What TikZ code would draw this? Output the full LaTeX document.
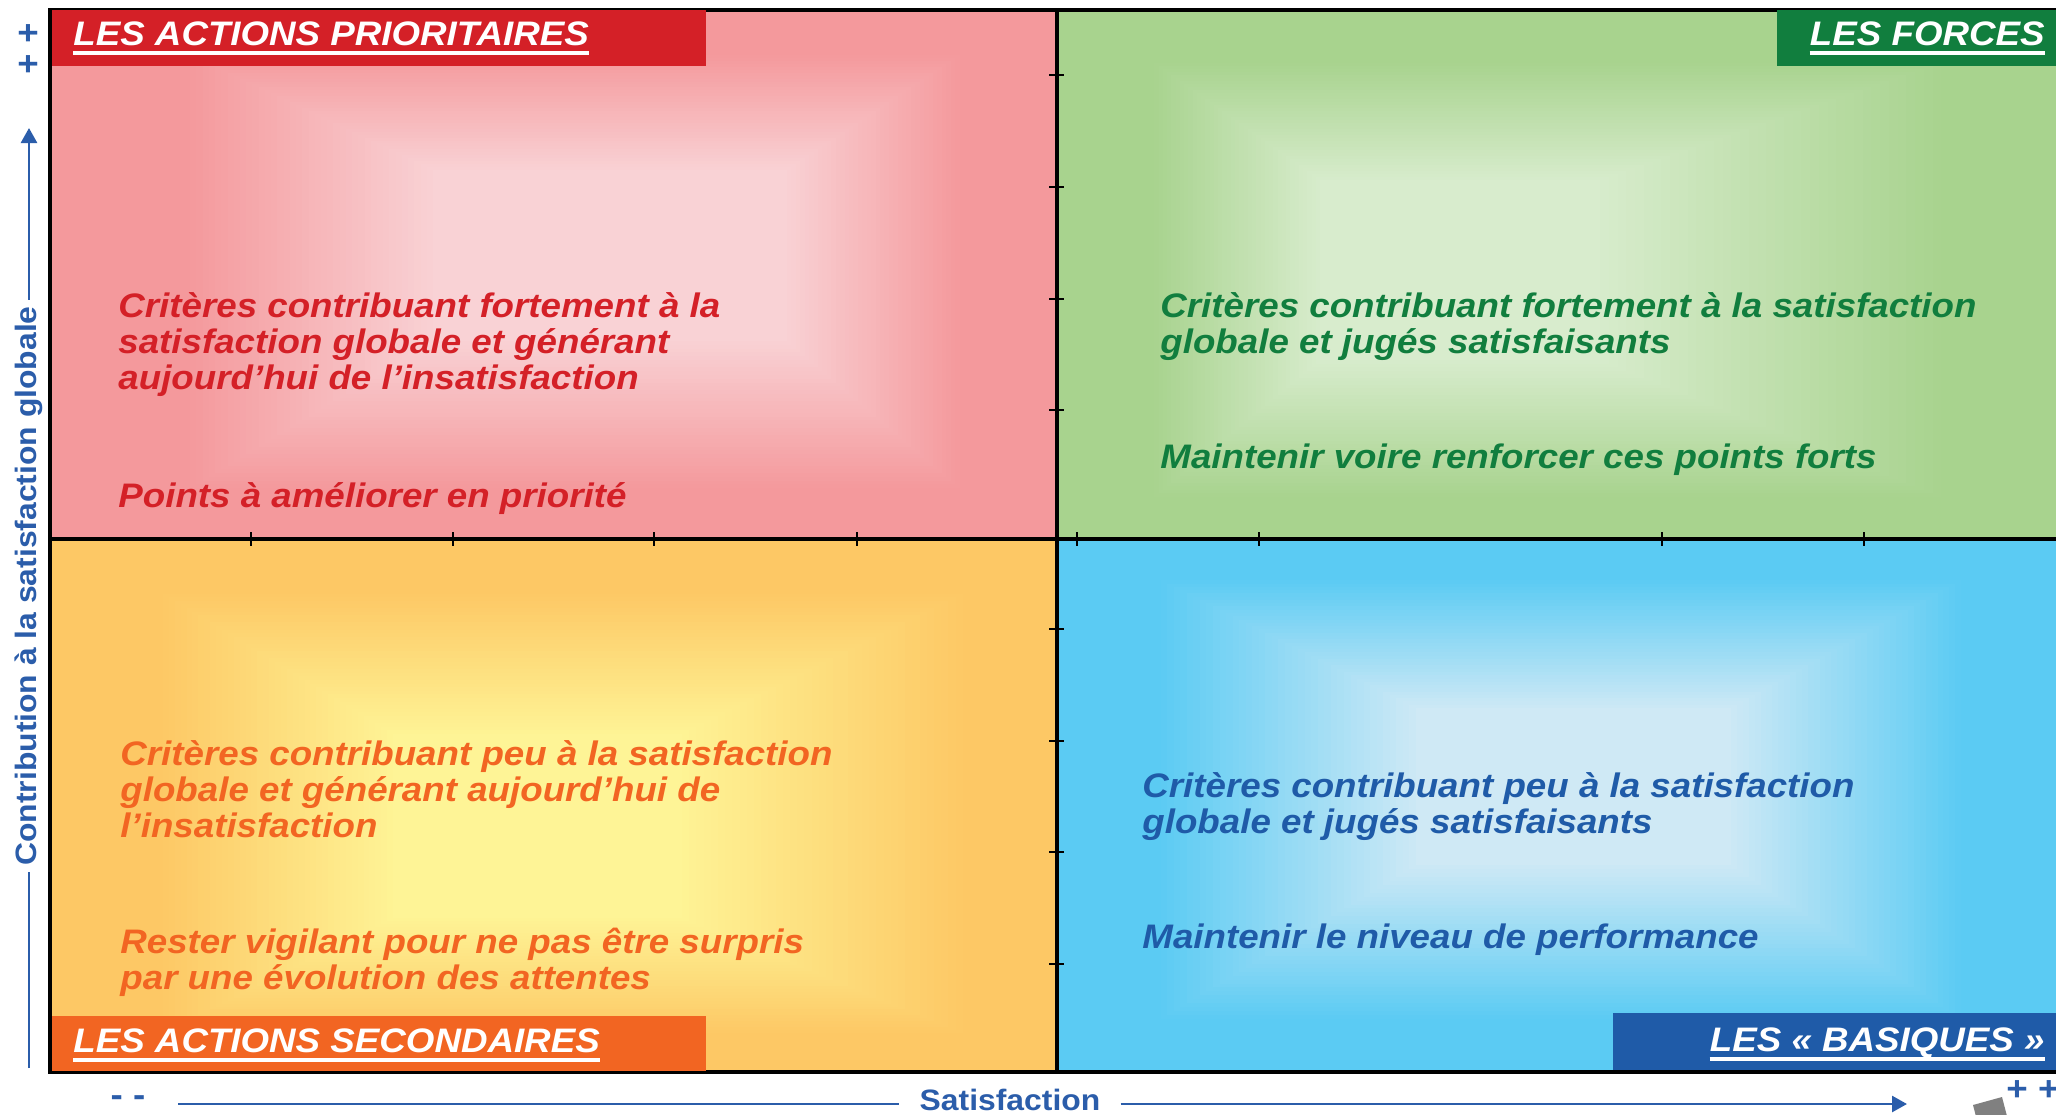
\documentclass[tikz,border=0pt]{standalone}
\usepackage{fontspec}
\setmainfont[FakeStretch=1.08]{Liberation Sans}
\usetikzlibrary{arrows.meta,calc}
\definecolor{prioRed}{HTML}{D42027}
\definecolor{forceGreen}{HTML}{117E3E}
\definecolor{secOrange}{HTML}{F26522}
\definecolor{basicBlue}{HTML}{1F5BA8}
\definecolor{axisBlue}{HTML}{2B5DAA}
\definecolor{redOut}{HTML}{F4999C}
\definecolor{redIn}{HTML}{F9D2D5}
\definecolor{greenOut}{HTML}{A8D38E}
\definecolor{greenIn}{HTML}{D8ECCD}
\definecolor{orangeOut}{HTML}{FDC865}
\definecolor{orangeIn}{HTML}{FEF496}
\definecolor{blueOut}{HTML}{5BCBF3}
\definecolor{blueIn}{HTML}{CFE9F5}

\begin{document}
\begin{tikzpicture}[x=0.5pt, y=-0.5pt,
  tagtext/.style={inner sep=0pt, anchor=base west, text=white, font=\fontsize{17}{18}\selectfont\bfseries\itshape},
  underl/.style={draw=white, line width=2pt},
  bodytext/.style={inner sep=0pt, anchor=base west, align=left, font=\fontsize{17}{18}\selectfont\bfseries\itshape},
  axislabel/.style={text=axisBlue, font=\fontsize{14.75}{16}\selectfont\bfseries},
  pmark/.style={inner sep=0pt, anchor=base, text=axisBlue, font=\fontsize{17}{18}\selectfont\bfseries},
  axisline/.style={draw=axisBlue, line width=1.3pt},
  tickmark/.style={line width=1pt},
]
\fill[white] (0,0) rectangle (2056,1114);
\useasboundingbox (0,0) rectangle (2056,1114);
\clip (0,0) rectangle (2056,1114);

% quadrants with a soft glow
\foreach \qa/\qb/\qc/\qd/\sa/\sb/\sc/\sd/\ea/\eb/\ec/\ed/\cin/\cout in {
  50/10/1057/539/184/52/964/492/433/170/787/341/redIn/redOut,
  1057/10/2056/539/1150/60/1950/500/1320/180/1600/360/greenIn/greenOut,
  50/539/1057/1072/157/590/970/1036/393/734/682/918/orangeIn/orangeOut,
  1057/539/2056/1072/1154/577/1967/1023/1416/708/1731/865/blueIn/blueOut} {
  \fill[\cout] (\qa,\qb) rectangle (\qc,\qd);
  \foreach \k in {1,...,40} {
    \pgfmathsetmacro\t{\k/40}
    \pgfmathtruncatemacro\m{100*\t}
    \fill[\cin!\m!\cout] ({\sa+(\ea-\sa)*\t},{\sb+(\eb-\sb)*\t}) rectangle ({\sc+(\ec-\sc)*\t},{\sd+(\ed-\sd)*\t});
  }
}

% frame, axes of the matrix and ticks
\draw[line width=2pt] (50,10) rectangle (2064,1072);
\draw[line width=1.7pt] (1057,10) -- (1057,1072);
\draw[line width=1.7pt] (50,539) -- (2056,539);
\foreach \x in {251,453,654,857,1077,1259,1662,1864}
  \draw[tickmark] (\x,532) -- (\x,546);
\foreach \y in {75,187,299,410,629,741,852,964}
  \draw[tickmark] (1049,\y) -- (1064,\y);

% quadrant titles
\fill[prioRed] (52,10) rectangle (706,66);
\fill[forceGreen] (1777,10) rectangle (2056,66);
\fill[secOrange] (52,1016) rectangle (706,1071);
\fill[basicBlue] (1613,1013) rectangle (2056,1070);

\node[tagtext] (prioTag) at (73,45) {LES ACTIONS PRIORITAIRES};
\node[tagtext, anchor=base east] (forceTag) at (2045,45) {LES FORCES};
\node[tagtext] (secTag) at (73,1052) {LES ACTIONS SECONDAIRES};
\node[tagtext, anchor=base east] (basicTag) at (2045,1051) {LES « BASIQUES »};
\foreach \n in {prioTag,forceTag,secTag,basicTag}
  \draw[underl] ($(\n.base west)+(0,8)$) -- ($(\n.base east)+(0,8)$);

% quadrant texts (placed by the baseline of their last line)
\node[bodytext, text=prioRed] (prioWhy) at (118,389) {Critères contribuant fortement à la\\satisfaction globale et générant\\aujourd’hui de l’insatisfaction};
\node[bodytext, text=prioRed] (prioDo) at (118,507) {Points à améliorer en priorité};
\node[bodytext, text=forceGreen] (forceWhy) at (1160,353) {Critères contribuant fortement à la satisfaction\\globale et jugés satisfaisants};
\node[bodytext, text=forceGreen] (forceDo) at (1160,468) {Maintenir voire renforcer ces points forts};
\node[bodytext, text=secOrange] (secWhy) at (120,837) {Critères contribuant peu à la satisfaction\\globale et générant aujourd’hui de\\l’insatisfaction};
\node[bodytext, text=secOrange] (secDo) at (120,989) {Rester vigilant pour ne pas être surpris\\par une évolution des attentes};
\node[bodytext, text=basicBlue] (basicWhy) at (1142,833) {Critères contribuant peu à la satisfaction\\globale et jugés satisfaisants};
\node[bodytext, text=basicBlue] (basicDo) at (1142,948) {Maintenir le niveau de performance};

% outer axes
\node[axislabel, rotate=90, anchor=base, inner xsep=3pt] (ylab) at (36,586) {Contribution à la satisfaction globale};
\coordinate (ybot) at (29,1068);
\coordinate (ytop) at (29,128);
\draw[axisline] (ybot) -- (ybot |- ylab.west);
\draw[axisline, -{Triangle[length=7.5pt,width=8pt]}] (ytop |- ylab.east) -- (ytop);

\node[axislabel, anchor=base, inner xsep=10pt, inner ysep=0pt] (xlab) at (1010,1110) {Satisfaction};
\coordinate (xleft) at (178,1104);
\coordinate (xright) at (1907,1104);
\draw[axisline] (xleft) -- (xleft -| xlab.west);
\draw[axisline, -{Triangle[length=7.5pt,width=8pt]}] (xright -| xlab.east) -- (xright);

\node[pmark] (plusA) at (28,44) {+};
\node[pmark] (plusB) at (28,75) {+};
\node[pmark] (minus) at (128,1106) {- -};
\node[pmark] (plusC) at (2033,1100) {+ +};

\fill[gray] (1973,1105) -- (2002,1097) -- (2008,1120) -- (1979,1128) -- cycle;
\end{tikzpicture}
\end{document}
